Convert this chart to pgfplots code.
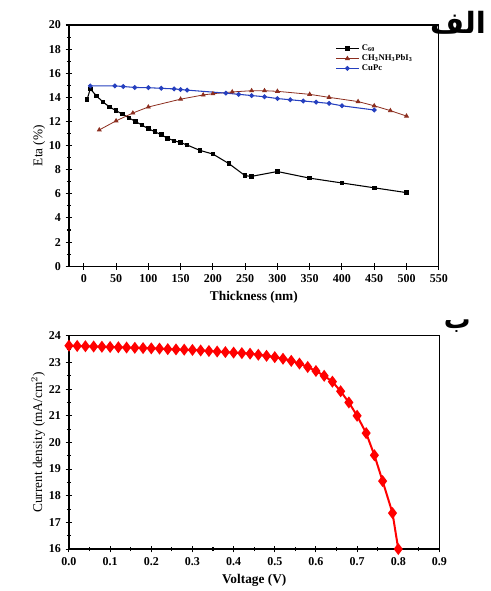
\documentclass[border=0pt]{standalone}
\usepackage{pgfplots}
\pgfplotsset{compat=1.18}
\usepackage{fontspec}
\setmainfont{Liberation Serif}
\newfontfamily\arabicfont[Script=Arabic]{DejaVu Sans}
\TeXXeTstate=1
\definecolor{perov}{rgb}{0.55,0.18,0.12}
\definecolor{cupc}{rgb}{0.15,0.25,0.75}
\pgfplotsset{
  every axis/.append style={
    scale only axis,
    axis line style={line width=1pt},
    tick align=center,
    xtick pos=bottom, ytick pos=left,
    major tick length=5pt, minor tick length=3pt,
    every tick/.style={black, line width=0.8pt},
    tick label style={font=\bfseries\small},
    /pgf/number format/assume math mode=true,
    label style={font=\bfseries},
  }
}
\begin{document}
\begin{tikzpicture}
\path (-51.75pt,18.75pt) rectangle (316.5pt,-424.5pt);
% top panel
\begin{axis}[
  at={(0,0)}, anchor=north west,
  width=277.5pt, height=181pt,
  xmin=-23, xmax=550, ymin=0, ymax=20,
  xtick={0,50,...,550}, ytick={0,2,...,20},
  minor y tick num=1,
  xlabel={Thickness (nm)}, ylabel={Eta (\%)},
  ylabel style={font=\normalfont, yshift=-4pt},
  legend style={draw=none, fill=none, font=\bfseries\fontsize{6.5}{6.5}\selectfont,
    at={(0.72,0.93)}, anchor=north west, row sep=-2.5pt,
    inner sep=0pt},
  legend cell align=left,
]
\addplot[black, line width=0.8pt, mark=square*, mark size=1.3pt] coordinates {
(5,13.8) (10,14.7) (20,14.1) (30,13.6) (40,13.2) (50,12.9) (60,12.6) (70,12.3)
(80,12.0) (90,11.7) (100,11.4) (110,11.15) (120,10.9) (130,10.6) (140,10.4)
(150,10.25) (160,10.05) (180,9.6) (200,9.3) (225,8.5) (250,7.5) (260,7.45)
(300,7.85) (350,7.3) (400,6.9) (450,6.5) (500,6.1)};
\addplot[perov, line width=0.6pt, mark=triangle*, mark size=1.6pt] coordinates {
(24,11.3) (50,12.05) (76,12.7) (100,13.2) (150,13.85) (185,14.2) (200,14.3)
(230,14.45) (260,14.55) (280,14.55) (300,14.5) (350,14.25) (380,14.0)
(425,13.65) (450,13.3) (475,12.9) (500,12.45)};
\addplot[cupc, line width=0.8pt, mark=*, mark size=1.4pt] coordinates {
(10,14.95) (48,14.95) (61,14.9) (79,14.82) (100,14.8) (120,14.75) (140,14.7)
(150,14.65) (160,14.6) (220,14.35) (240,14.25) (260,14.15) (280,14.05)
(300,13.9) (320,13.8) (340,13.7) (360,13.6) (380,13.5) (400,13.3) (450,12.95)};
\legend{C\textsubscript{60}, CH\textsubscript{3}NH\textsubscript{3}PbI\textsubscript{3}, CuPc}
\end{axis}
\node[font=\arabicfont\bfseries\fontsize{22}{22}\selectfont, anchor=north east] at (316.5pt,14pt) {\beginR الف\endR};
% bottom panel
\begin{axis}[
  at={(0,-233.25pt)}, anchor=north west,
  width=278pt, height=160pt,
  xmin=0, xmax=0.9, ymin=16, ymax=24,
  xtick={0,0.1,...,0.9}, ytick={16,17,...,24},
  minor x tick num=1, minor y tick num=1,
  xticklabel style={/pgf/number format/.cd, fixed, fixed zerofill, precision=1},
  xlabel={Voltage (V)}, ylabel={Current density (mA/cm$^2$)},
  ylabel style={font=\normalfont, yshift=-4pt},
]
\addplot[red, line width=1.5pt, mark=diamond*, mark size=3.3pt] coordinates {
(0.00,23.63) (0.02,23.62) (0.04,23.61) (0.06,23.60) (0.08,23.59) (0.10,23.58)
(0.12,23.57) (0.14,23.56) (0.16,23.55) (0.18,23.54) (0.20,23.53) (0.22,23.52)
(0.24,23.50) (0.26,23.49) (0.28,23.48) (0.30,23.47) (0.32,23.45) (0.34,23.43)
(0.36,23.41) (0.38,23.39) (0.40,23.37) (0.42,23.35) (0.44,23.33) (0.46,23.29)
(0.48,23.25) (0.50,23.20) (0.52,23.14) (0.54,23.06) (0.56,22.96) (0.58,22.83)
(0.60,22.68) (0.62,22.50) (0.64,22.28) (0.66,21.92) (0.68,21.50) (0.70,21.00)
(0.722,20.35) (0.742,19.52) (0.762,18.55) (0.786,17.35) (0.80,16.00)};
\end{axis}
\node[font=\arabicfont\bfseries\fontsize{20}{20}\selectfont, anchor=north east] at (305pt,-218pt) {\beginR ب\endR};
\end{tikzpicture}
\end{document}
